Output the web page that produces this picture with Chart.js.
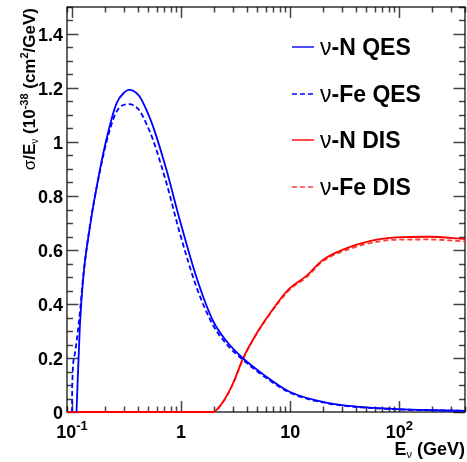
<!DOCTYPE html>
<html><head><meta charset="utf-8">
<script src="https://cdn.jsdelivr.net/npm/chart.js@4.4.0/dist/chart.umd.min.js"></script>
<style>html,body{margin:0;padding:0;background:#fff;}</style>
</head><body>
<canvas id="c" width="467" height="462"></canvas>
<script>
// ---------------- data ----------------
const qesN_E = [0.110, 0.118, 0.127, 0.146, 0.180, 0.215, 0.256, 0.300, 0.334, 0.370, 0.418, 0.480, 0.554, 0.735, 0.973, 1.38, 1.96, 2.60, 3.69, 6.04, 9.87, 21.4, 65.8, 400];
const qesN_S = [0.000, 0.316, 0.500, 0.686, 0.896, 1.038, 1.143, 1.183, 1.193, 1.188, 1.168, 1.120, 1.057, 0.896, 0.711, 0.500, 0.338, 0.263, 0.199, 0.131, 0.075, 0.035, 0.014, 0.004];

const qesFe_E = [0.100, 0.1005, 0.1064, 0.118, 0.127, 0.146, 0.180, 0.215, 0.256, 0.320, 0.370, 0.418, 0.480, 0.554, 0.735, 0.973, 1.38, 1.96, 2.60, 3.69, 6.04, 9.87, 21.4, 65.8, 400];
const qesFe_S = [0.000, 0.095, 0.217, 0.366, 0.505, 0.690, 0.890, 1.025, 1.112, 1.140, 1.135, 1.115, 1.068, 1.007, 0.847, 0.663, 0.464, 0.322, 0.252, 0.193, 0.126, 0.072, 0.033, 0.013, 0.004];

const disN_E = [0.09, 1.95, 2.42, 2.99, 3.69, 4.90, 6.04, 8.00, 9.87, 14.0, 19.9, 37.5, 65.8, 93.4, 188, 400];
const disN_S = [0.000, 0.000, 0.038, 0.106, 0.198, 0.290, 0.346, 0.415, 0.458, 0.503, 0.563, 0.615, 0.640, 0.647, 0.649, 0.640];

const disFe_E = [0.09, 1.95, 2.42, 2.99, 3.69, 4.90, 6.04, 8.00, 9.87, 14.0, 19.9, 37.5, 65.8, 93.4, 188, 400];
const disFe_S = [0.000, 0.000, 0.036, 0.104, 0.196, 0.288, 0.344, 0.410, 0.453, 0.498, 0.558, 0.608, 0.632, 0.638, 0.639, 0.632];

const seriesNames = ["-N QES", "-Fe QES", "-N DIS", "-Fe DIS"];

const xMin = 0.09, xMax = 400;
const yMin = 0, yMax = 1.5;
const xMajorTicks = [0.1, 1, 10, 100];
const xMajorLabels = [["10", "-1"], ["1", ""], ["10", ""], ["10", "2"]];
const yMajorTicks = [0, 0.2, 0.4, 0.6, 0.8, 1.0, 1.2, 1.4];
const yMajorLabels = ["0", "0.2", "0.4", "0.6", "0.8", "1", "1.2", "1.4"];

// ---------------- helpers ----------------
const FAM = '"Liberation Sans", Arial, Helvetica, sans-serif';
function pts(E, S) { return E.map((e, i) => ({ x: e, y: S[i] })); }
function font(p) { return (p.w || 'bold') + ' ' + p.s + 'px ' + FAM; }
function richWidth(ctx, pieces) {
  let w = 0;
  for (const p of pieces) { ctx.font = font(p); w += ctx.measureText(p.t).width; }
  return w;
}
function richDraw(ctx, x, y, pieces, align) {
  const W = richWidth(ctx, pieces);
  let cx = align === 'right' ? x - W : align === 'center' ? x - W / 2 : x;
  ctx.textAlign = 'left';
  ctx.textBaseline = 'alphabetic';
  for (const p of pieces) {
    ctx.font = font(p);
    ctx.fillText(p.t, cx, y + (p.dy || 0));
    cx += ctx.measureText(p.t).width;
  }
}

const colors = ['#0000ff', '#0000ff', '#ff0000', '#ff3c3c'];
const dashes = [[], [5, 3], [], [5, 3]];

const rootPlugin = {
  id: 'rootStyle',
  beforeDatasetsDraw(chart) {
    const ctx = chart.ctx, a = chart.chartArea;
    const xs = chart.scales.x, ys = chart.scales.y;
    ctx.save();
    ctx.strokeStyle = '#444';
    ctx.lineWidth = 1.5;
    ctx.beginPath();
    for (let d = -2; d <= 3; d++) {
      for (let m = 1; m <= 9; m++) {
        const v = m * Math.pow(10, d);
        if (v < xMin * 0.999 || v > xMax * 1.001) continue;
        const px = Math.round(xs.getPixelForValue(v)) + 0.5;
        const len = m === 1 ? 11 : 5.5;
        ctx.moveTo(px, a.bottom); ctx.lineTo(px, a.bottom - len);
        ctx.moveTo(px, a.top); ctx.lineTo(px, a.top + len);
      }
    }
    for (let i = 0; i <= 30; i++) {
      const v = i * 0.05;
      const py = Math.round(ys.getPixelForValue(v)) + 0.5;
      const len = i % 4 === 0 ? 11.5 : 6;
      ctx.moveTo(a.left, py); ctx.lineTo(a.left + len, py);
      ctx.moveTo(a.right, py); ctx.lineTo(a.right - len, py);
    }
    ctx.stroke();
    ctx.strokeStyle = '#000';
    ctx.lineWidth = 1.2;
    ctx.strokeRect(a.left, a.top, a.right - a.left, a.bottom - a.top);
    ctx.restore();
  },
  afterDraw(chart) {
    const ctx = chart.ctx, a = chart.chartArea;
    const xs = chart.scales.x, ys = chart.scales.y;
    ctx.save();
    ctx.fillStyle = '#000';
    yMajorTicks.forEach((v, i) => {
      const py = ys.getPixelForValue(v);
      richDraw(ctx, a.left - 4, py + 6.5, [{ t: yMajorLabels[i], s: 18 }], 'right');
    });
    xMajorTicks.forEach((v, i) => {
      const px = xs.getPixelForValue(v);
      const lab = xMajorLabels[i];
      const pieces = [{ t: lab[0], s: 18 }];
      if (lab[1]) pieces.push({ t: lab[1], s: 13, dy: -8 });
      richDraw(ctx, px, 438, pieces, 'center');
    });
    richDraw(ctx, a.right, 455, [
      { t: 'E', s: 18 }, { t: 'ν', s: 11, dy: 3, w: 'normal' }, { t: ' (GeV)', s: 18 }
    ], 'right');
    ctx.save();
    ctx.translate(35, 8);
    ctx.rotate(-Math.PI / 2);
    richDraw(ctx, 0, 0, [
      { t: 'σ', s: 17, w: 'normal' }, { t: '/E', s: 17 }, { t: 'ν', s: 10, dy: 3, w: 'normal' },
      { t: ' (10', s: 17 }, { t: '-38', s: 11, dy: -7 }, { t: ' (cm', s: 17 }, { t: '2', s: 11, dy: -7 },
      { t: '/GeV)', s: 17 }
    ], 'right');
    ctx.restore();
    const rows = [47, 94, 140, 187];
    chart.data.datasets.forEach((ds, i) => {
      const y = rows[i];
      ctx.save();
      ctx.strokeStyle = ds.borderColor;
      ctx.lineWidth = 1.4;
      ctx.setLineDash(ds.borderDash || []);
      ctx.beginPath(); ctx.moveTo(292, y); ctx.lineTo(314, y); ctx.stroke();
      ctx.restore();
      richDraw(ctx, 320, y + 8, [{ t: 'ν', s: 23, w: 'normal' }, { t: seriesNames[i], s: 23 }], 'left');
    });
    ctx.restore();
  }
};

const ds = [
  pts(qesN_E, qesN_S), pts(qesFe_E, qesFe_S), pts(disN_E, disN_S), pts(disFe_E, disFe_S)
].map((d, i) => ({
  label: 'ν' + seriesNames[i],
  data: d,
  borderColor: colors[i],
  borderDash: dashes[i],
  borderWidth: 1.8,
  pointRadius: 0,
  fill: false,
  cubicInterpolationMode: 'monotone',
  clip: 3
}));

new Chart(document.getElementById('c'), {
  type: 'line',
  data: { datasets: ds },
  options: {
    responsive: false,
    animation: false,
    devicePixelRatio: 1,
    layout: { padding: { left: 67, right: 2, top: 7, bottom: 50 } },
    plugins: { legend: { display: false }, tooltip: { enabled: false } },
    scales: {
      x: { type: 'logarithmic', min: xMin, max: xMax, display: false },
      y: { type: 'linear', min: yMin, max: yMax, display: false }
    }
  },
  plugins: [rootPlugin]
});
</script>
</body></html>
